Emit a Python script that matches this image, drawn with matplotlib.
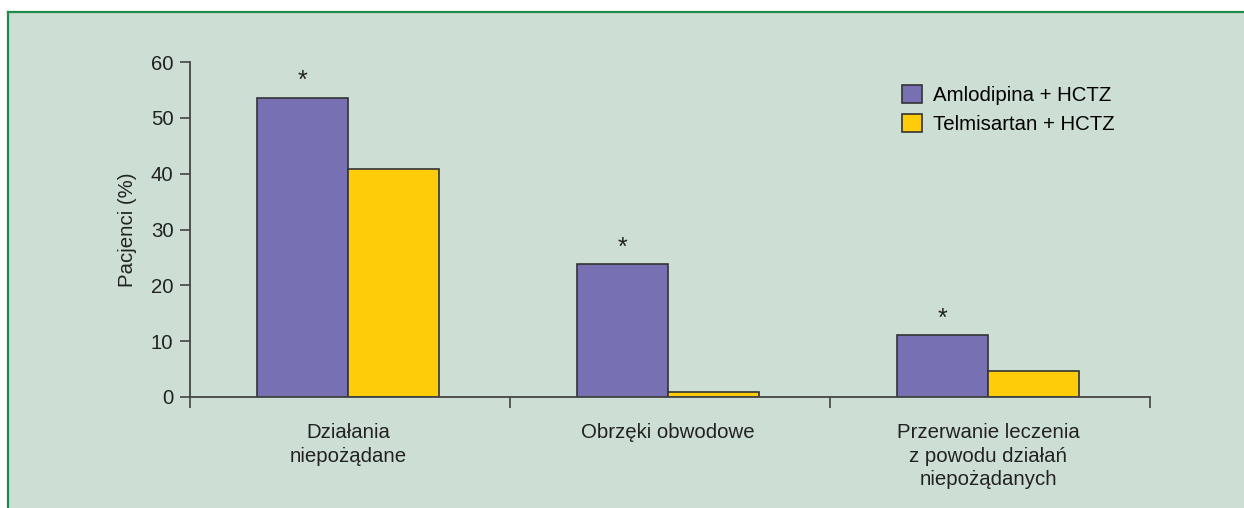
import matplotlib.pyplot as plt
import numpy as np
from matplotlib.patches import Rectangle
from matplotlib.lines import Line2D

plt.rcParams['font.family'] = ['Liberation Sans', 'DejaVu Sans']

kategorie = ['Działania\nniepożądane', 'Obrzęki obwodowe',
             'Przerwanie leczenia\nz powodu działań\nniepożądanych']
amlodipina = [53.6, 23.8, 11.1]
telmisartan = [40.9, 0.9, 4.7]
istotne = [True, True, True]
serie = ['Amlodipina + HCTZ', 'Telmisartan + HCTZ']

tlo = '#cddfd4'
fiolet = '#7771b3'
zolty = '#ffcc0a'
ziel = '#1f8a4c'
fs = 14.7

fig = plt.figure(figsize=(12.44, 5.08), dpi=100)
fig.patch.set_facecolor('white')
# ramka z tlem
fig.add_artist(Rectangle((8/1244, 0), 1 - 8/1244, 1 - 12/508, transform=fig.transFigure,
                         facecolor=tlo, edgecolor='none', zorder=-10))
fig.add_artist(Line2D([8/1244, 1], [1 - 12/508, 1 - 12/508], transform=fig.transFigure,
                      color=ziel, lw=1.6))
fig.add_artist(Line2D([8/1244, 8/1244], [0, 1 - 12/508], transform=fig.transFigure,
                      color=ziel, lw=1.6))

ax = fig.add_axes([190/1244, 1 - 397/508, 960/1244, 335/508])
ax.set_facecolor('none')

x = np.arange(len(kategorie)) + 0.494
w = 0.285
ax.bar(x - w/2, amlodipina, w, color=fiolet, edgecolor='#333333', lw=1.2, label=serie[0])
ax.bar(x + w/2, telmisartan, w, color=zolty, edgecolor='#333333', lw=1.2, label=serie[1])
for xi, v, s in zip(x, amlodipina, istotne):
    if s:
        ax.text(xi - w/2, v + 0.8, '*', ha='center', va='bottom', fontsize=18, color='#222222')

ax.set_xlim(0, 3)
ax.set_ylim(0, 60)
ax.set_yticks([0, 10, 20, 30, 40, 50, 60])
ax.set_xticks([0, 1, 2, 3])
ax.set_xticklabels([])
ax.set_xticks(x, minor=True)
ax.set_xticklabels(kategorie, minor=True, fontsize=fs, color='#222222', linespacing=1.3)
ax.tick_params(axis='x', which='minor', length=0, pad=19)
ax.tick_params(axis='x', which='major', length=8, width=1.2, color='#444444', direction='out')
ax.tick_params(axis='y', length=7, width=1.2, color='#444444', labelsize=fs,
               labelcolor='#222222', pad=5)
for s in ['top', 'right']:
    ax.spines[s].set_visible(False)
for s in ['left', 'bottom']:
    ax.spines[s].set_color('#444444')
    ax.spines[s].set_linewidth(1.3)
ax.set_ylabel('Pacjenci (%)', fontsize=fs, color='#222222', labelpad=10)

leg = ax.legend(loc='upper left', bbox_to_anchor=(0.723, 0.985), frameon=False, fontsize=fs,
                handlelength=0.95, handleheight=0.95, handletextpad=0.55, labelspacing=0.45)

fig.savefig('out.png', dpi=100, facecolor=fig.get_facecolor())
